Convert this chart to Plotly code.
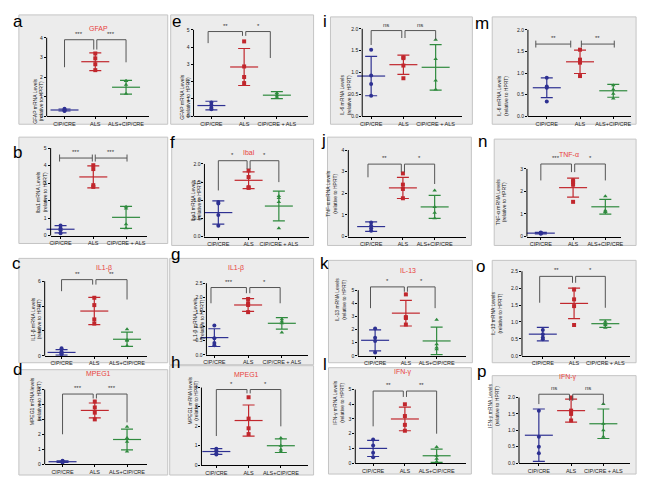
import plotly.graph_objects as go

W, H = 650, 483
COLORS = ['#2e3192', '#c1272d', '#2f8a3e']
SYMBOLS = ['circle', 'square', 'triangle-up']
FONT = 'Liberation Sans'

# --- group labels ---
lab_als_cip = ['CIP/CRE', 'ALS', 'ALS+CIP/CRE']
lab_cip_als = ['CIP/CRE', 'ALS', 'CIP/CRE + ALS']

# --- data: values per group (CIP/CRE, ALS, combined), means and SD ---
a_pts = [[0.38, 0.33, 0.3, 0.27], [3.2, 2.95, 2.65, 2.35], [1.8, 1.8, 1.6, 1.15]]
a_mean = [0.32, 2.78, 1.48]
a_sd = [0.05, 0.45, 0.35]

e_pts = [[0.8, 0.65, 0.5, 0.4], [4.33, 2.88, 2.27, 1.92], [1.35, 1.25, 1.15, 1.05]]
e_mean = [0.62, 2.85, 1.22]
e_sd = [0.25, 1.07, 0.2]

i_pts = [[1.52, 0.93, 0.74, 0.47], [1.35, 1.33, 1.16, 0.87], [1.75, 1.31, 0.82, 0.61]]
i_mean = [0.92, 1.18, 1.12]
i_sd = [0.45, 0.22, 0.52]

m_pts = [[0.89, 0.69, 0.66, 0.34], [1.54, 1.31, 1.24, 0.93], [0.72, 0.62, 0.52, 0.41]]
m_mean = [0.66, 1.26, 0.59]
m_sd = [0.23, 0.27, 0.15]

b_pts = [[0.57, 0.42, 0.3, 0.13], [4.02, 3.8, 2.88, 2.78], [1.65, 1.55, 0.64, 0.42]]
b_mean = [0.36, 3.35, 1.04]
b_sd = [0.21, 0.63, 0.63]

f_pts = [[0.95, 0.91, 0.59, 0.3], [1.82, 1.64, 1.36, 1.34], [1.12, 1.06, 0.95, 0.23]]
f_mean = [0.66, 1.55, 0.84]
f_sd = [0.32, 0.23, 0.41]

j_pts = [[0.65, 0.5, 0.38, 0.27], [2.92, 2.4, 2.2, 1.77], [2.13, 1.37, 1.1, 0.85]]
j_mean = [0.46, 2.25, 1.37]
j_sd = [0.22, 0.49, 0.53]

n_pts = [[0.18, 0.16, 0.14, 0.12], [2.49, 2.42, 2.3, 1.54], [1.79, 1.15, 1.1, 1.08]]
n_mean = [0.15, 2.17, 1.32]
n_sd = [0.03, 0.42, 0.33]

c_pts = [[0.61, 0.35, 0.2, 0.13], [4.67, 4.08, 2.93, 2.59], [2.13, 1.28, 1.2, 0.8]]
c_mean = [0.27, 3.6, 1.33]
c_sd = [0.22, 1.1, 0.57]

g_pts = [[1.02, 0.58, 0.41, 0.33], [1.95, 1.8, 1.74, 1.49], [1.24, 1.16, 1.1, 0.78]]
g_mean = [0.6, 1.74, 1.1]
g_sd = [0.31, 0.22, 0.2]

k_pts = [[2.08, 1.38, 1.13, 0.25], [4.68, 2.95, 2.88, 2.38], [2.75, 0.88, 0.63, 0.5]]
k_mean = [1.18, 3.25, 1.13]
k_sd = [0.8, 0.98, 1.05]

o_pts = [[0.76, 0.64, 0.54, 0.49], [1.96, 1.67, 1.47, 0.91], [1.01, 0.95, 0.91, 0.83]]
o_mean = [0.64, 1.55, 0.95]
o_sd = [0.2, 0.45, 0.11]

d_pts = [[0.22, 0.18, 0.15, 0.1], [4.2, 3.8, 3.45, 3.0], [2.5, 1.75, 1.5, 0.85]]
d_mean = [0.16, 3.6, 1.65]
d_sd = [0.05, 0.5, 0.7]

h_pts = [[0.85, 0.75, 0.6, 0.55], [3.5, 2.4, 1.9, 1.6], [1.4, 1.0, 0.8, 0.7]]
h_mean = [0.7, 2.3, 1.0]
h_sd = [0.15, 0.8, 0.35]

l_pts = [[1.6, 1.2, 0.7, 0.4], [4.0, 3.2, 2.6, 2.2], [1.1, 0.5, 0.3, 0.1]]
l_mean = [1.0, 3.0, 0.5]
l_sd = [0.55, 0.8, 0.45]

p_pts = [[1.6, 0.8, 0.5, 0.3], [2.0, 1.6, 1.5, 1.3], [1.8, 1.2, 1.0, 0.8]]
p_mean = [0.85, 1.6, 1.2]
p_sd = [0.8, 0.35, 0.45]

# brackets: (x left, left leg bottom, x right, right leg bottom, top, text)
# flat brackets: ('flat', x0, x1, y, text)
panels = [
    dict(k='a', pts=a_pts, mean=a_mean, sd=a_sd, title='GFAP', tpos=(85, 23),
         ylab='GFAP mRNA Levels<br>(relative to HPRT)', xlab=lab_als_cip,
         yr=(0, 4), dt=1, fmt='d', box=(16, 15, 166, 125), ax=44, ypx=(117, 38),
         cats=(62, 124), xend=147, let=(8, 10),
         br=[(1, 2.5, 1.95, 3.4, 3.9, '***'), (2.05, 3.4, 3, 2.75, 3.9, '***')]),
    dict(k='e', pts=e_pts, mean=e_mean, sd=e_sd, title=None,
         ylab='GFAP mRNA Levels<br>(relative to HPRT)', xlab=lab_cip_als,
         yr=(0, 5), dt=1, fmt='d', box=(169, 15, 313, 125), ax=192, ypx=(117, 30),
         cats=(210, 276), xend=307, let=(168, 10),
         br=[(0.9, 4.23, 1.95, 4.65, 4.9, '**'), (2.05, 4.65, 2.8, 3.37, 4.9, '*')]),
    dict(k='i', pts=i_pts, mean=i_mean, sd=i_sd, title=None,
         ylab='IL-6 mRNA Levels<br>(relative to HPRT)', xlab=lab_cip_als,
         yr=(0, 2), dt=0.5, fmt='.1f', box=(330, 17, 473, 125), ax=362, ypx=(117, 29),
         cats=(371, 436), xend=463, let=(324, 10),
         br=[(1, 1.63, 1.95, 1.79, 1.96, 'ns'), (2.05, 1.79, 3, 1.75, 1.96, 'ns')]),
    dict(k='m', pts=m_pts, mean=m_mean, sd=m_sd, title=None,
         ylab='IL-6 mRNA Levels<br>(relative to HPRT)', xlab=lab_als_cip,
         yr=(0, 2), dt=0.5, fmt='.1f', box=(493, 17, 638, 125), ax=529, ypx=(117, 30),
         cats=(548, 615), xend=633, let=(492, 12),
         br=[('flat', 0.67, 1.72, 1.67, '**'), ('flat', 2.04, 3.03, 1.67, '**')]),
    dict(k='b', pts=b_pts, mean=b_mean, sd=b_sd, title=None,
         ylab='Iba1 mRNA Levels<br>(relative to HPRT)', xlab=lab_cip_als,
         yr=(0, 5), dt=1, fmt='d', box=(16, 138, 166, 245), ax=48, ypx=(237, 149),
         cats=(58, 124), xend=145, let=(8, 142),
         br=[('flat', 0.97, 1.97, 4.43, '***'), ('flat', 2.06, 3.03, 4.43, '***')]),
    dict(k='f', pts=f_pts, mean=f_mean, sd=f_sd, title='Ibal', tpos=(248, 148),
         ylab='Iba1 mRNA Levels<br>(relative to HPRT)', xlab=lab_cip_als,
         yr=(0, 2), dt=0.5, fmt='.1f', box=(170, 140, 313, 247), ax=203, ypx=(238, 165),
         cats=(217, 278), xend=308, let=(166, 132),
         br=[(1, 1.27, 1.95, 1.86, 2.09, '*'), (2.05, 1.86, 3, 1.5, 2.09, '*')]),
    dict(k='j', pts=j_pts, mean=j_mean, sd=j_sd, title=None,
         ylab='TNF-α mRNA Levels<br>(relative to HPRT)', xlab=lab_als_cip,
         yr=(0, 4), dt=1, fmt='d', box=(327, 138, 472, 247), ax=348, ypx=(238, 151),
         cats=(371, 435), xend=467, let=(323, 130),
         br=[(0.9, 2.74, 1.95, 2.97, 3.35, '**'), (2.05, 2.97, 3, 2.43, 3.35, '*')]),
    dict(k='n', pts=n_pts, mean=n_mean, sd=n_sd, title='TNF-α', tpos=(582, 150),
         ylab='TNF-α mRNA Levels<br>(relative to HPRT)', xlab=lab_als_cip,
         yr=(0, 3), dt=1, fmt='d', box=(495, 140, 638, 247), ax=528, ypx=(238, 170),
         cats=(542, 607), xend=623, let=(490, 131),
         br=[(1, 2.49, 1.95, 2.86, 3.22, '***'), (2.05, 2.86, 3, 2.49, 3.22, '*')]),
    dict(k='c', pts=c_pts, mean=c_mean, sd=c_sd, title='IL1-β', tpos=(92, 270),
         ylab='IL1-β mRNA Levels<br>(relative to HPRT)', xlab=lab_als_cip,
         yr=(0, 6), dt=2, fmt='d', box=(16, 260, 166, 365), ax=42, ypx=(358, 283),
         cats=(59, 125), xend=145, let=(7, 265),
         br=[(1, 5.2, 1.95, 5.73, 6.13, '**'), (2.05, 5.73, 3, 4.53, 6.13, '**')]),
    dict(k='g', pts=g_pts, mean=g_mean, sd=g_sd, title='IL1-β', tpos=(235, 270),
         ylab='IL1-β mRNA Levels<br>(relative to HPRT)', xlab=lab_cip_als,
         yr=(0, 2.5), dt=0.5, fmt='.1f', box=(168, 260, 313, 367), ax=205, ypx=(357, 285),
         cats=(213, 281), xend=307, let=(167, 256),
         br=[(0.9, 1.8, 1.95, 2.15, 2.35, '***'), (2.05, 2.15, 2.95, 1.8, 2.35, '*')]),
    dict(k='k', pts=k_pts, mean=k_mean, sd=k_sd, title='IL-13', tpos=(408, 272),
         ylab='IL-13 mRNA Levels<br>(relative to HPRT)', xlab=lab_als_cip,
         yr=(0, 5), dt=1, fmt='d', box=(328, 262, 473, 365), ax=358, ypx=(358, 292),
         cats=(375, 437), xend=467, let=(324, 265),
         br=[(0.85, 3.63, 1.95, 4.88, 5.25, '*'), (2.05, 4.88, 2.95, 3.63, 5.25, '*')]),
    dict(k='o', pts=o_pts, mean=o_mean, sd=o_sd, title=None,
         ylab='IL-13 mRNA Levels<br>(relative to HPRT)', xlab=lab_cip_als,
         yr=(0, 2.5), dt=0.5, fmt='.1f', box=(493, 262, 638, 365), ax=523, ypx=(358, 273),
         cats=(544, 607), xend=632, let=(488, 268),
         br=[(0.9, 1.57, 1.95, 2.16, 2.35, '**'), (2.05, 2.16, 3, 1.42, 2.35, '*')]),
    dict(k='d', pts=d_pts, mean=d_mean, sd=d_sd, title='MPEG1', tpos=(82, 381),
         ylab='MPEG1 mRNA levels<br>(relative to HPRT)', xlab=lab_als_cip,
         yr=(0, 5), dt=1, fmt='d', box=(16, 372, 166, 478), ax=42, ypx=(467, 392),
         cats=(60, 125), xend=145, let=(8, 383),
         br=[(1, 2.0, 1.95, 4.4, 4.7, '***'), (2.05, 4.4, 3, 2.8, 4.7, '***')]),
    dict(k='h', pts=h_pts, mean=h_mean, sd=h_sd, title='MPEG1', tpos=(245, 382),
         ylab='MPEG1 mRNA levels<br>(relative to HPRT)', xlab=lab_als_cip,
         yr=(0, 4), dt=1, fmt='d', box=(168, 368, 313, 478), ax=200, ypx=(468, 390),
         cats=(215, 280), xend=307, let=(167, 376),
         br=[(1, 1.5, 1.95, 3.7, 3.9, '*'), (2.05, 3.7, 3, 2.0, 3.9, '*')]),
    dict(k='l', pts=l_pts, mean=l_mean, sd=l_sd, title='IFN-γ', tpos=(403, 380),
         ylab='IFN-γ mRNA Levels<br>(relative to HPRT)', xlab=lab_als_cip,
         yr=(0, 5), dt=1, fmt='d', box=(328, 370, 472, 477), ax=355, ypx=(466, 392),
         cats=(373, 437), xend=467, let=(324, 378),
         br=[(1, 2.5, 1.95, 4.5, 4.9, '**'), (2.05, 4.5, 3, 2.0, 4.9, '**')]),
    dict(k='p', pts=p_pts, mean=p_mean, sd=p_sd, title='IFN-γ', tpos=(580, 385),
         ylab='IFN-γ mRNA Levels<br>(relative to HPRT)', xlab=lab_cip_als,
         yr=(0, 2), dt=0.5, fmt='.1f', box=(493, 378, 638, 477), ax=520, ypx=(466, 400),
         cats=(540, 605), xend=632, let=(489, 385),
         br=[(1, 1.8, 1.95, 1.9, 2.1, 'ns'), (2.05, 1.9, 3, 1.8, 2.1, 'ns')]),
]


def fx(p):
    return p / W


def fy(p):
    return 1 - p / H


fig = go.Figure()
shapes, annots, axes = [], [], {}

for n, P in enumerate(panels, start=1):
    sfx = '' if n == 1 else str(n)
    xa, ya = 'x' + sfx, 'y' + sfx
    x0b, y0b, x1b, y1b = P['box']

    # panel background box
    shapes.append(dict(type='rect', xref='paper', yref='paper', x0=fx(x0b), x1=fx(x1b),
                       y0=fy(y1b), y1=fy(y0b), fillcolor='#ececec',
                       line=dict(color='#c4c4c4', width=1), layer='below'))

    # axis scales from pixel references
    ux = (P['cats'][1] - P['cats'][0]) / 2
    xr = [1 + (P['ax'] - P['cats'][0]) / ux, 1 + (P['xend'] - P['cats'][0]) / ux]
    ylo, yhi = P['yr']
    uy = (P['ypx'][0] - P['ypx'][1]) / (yhi - ylo)
    ytop_px = y0b + 3
    ytop = yhi + (P['ypx'][1] - ytop_px) / uy
    ticks = []
    v = ylo
    while v <= yhi + 1e-9:
        ticks.append(round(v, 3))
        v += P['dt']
    tt = [format(t, P['fmt']) if P['fmt'] != 'd' else str(int(t)) for t in ticks]

    axes['xaxis' + sfx] = dict(domain=[fx(P['ax']), fx(P['xend'])], range=xr, anchor=ya,
                               showline=True, linecolor='black', linewidth=1,
                               ticks='outside', ticklen=2, tickcolor='black',
                               tickvals=[1, 2, 3], ticktext=P['xlab'],
                               tickfont=dict(size=5.5, color='#1a1a1a', family=FONT),
                               showgrid=False, zeroline=False, fixedrange=True)
    axes['yaxis' + sfx] = dict(domain=[fy(P['ypx'][0]), fy(ytop_px)], range=[ylo, ytop],
                               anchor=xa, showline=False, ticks='outside', ticklen=2,
                               tickcolor='black', tickvals=ticks, ticktext=tt,
                               tickfont=dict(size=5, color='#1a1a1a', family=FONT),
                               showgrid=False, zeroline=False, fixedrange=True)
    # y axis line only from ymin to ymax
    shapes.append(dict(type='line', xref='paper', yref='paper', x0=fx(P['ax']), x1=fx(P['ax']),
                       y0=fy(P['ypx'][0]), y1=fy(P['ypx'][1]), line=dict(color='black', width=1)))

    # points and mean +/- SD
    for gi in range(3):
        fig.add_trace(go.Scatter(
            x=[gi + 1] * len(P['pts'][gi]), y=P['pts'][gi], mode='markers',
            marker=dict(symbol=SYMBOLS[gi], size=4, color=COLORS[gi]),
            xaxis=xa, yaxis=ya, cliponaxis=False, showlegend=False, hoverinfo='y'))
        fig.add_trace(go.Scatter(
            x=[gi + 1], y=[P['mean'][gi]], mode='markers',
            marker=dict(symbol='line-ew', size=20, line=dict(color=COLORS[gi], width=1.2)),
            error_y=dict(type='data', array=[P['sd'][gi]], color=COLORS[gi],
                         thickness=1.2, width=6),
            xaxis=xa, yaxis=ya, cliponaxis=False, showlegend=False, hoverinfo='y'))

    # significance brackets
    for b in P['br']:
        if b[0] == 'flat':
            _, bx0, bx1, by, txt = b
            tk = 0.04 * (yhi - ylo)
            path = (f'M {bx0},{by - tk} L {bx0},{by + tk} M {bx0},{by} L {bx1},{by} '
                    f'M {bx1},{by - tk} L {bx1},{by + tk}')
            mid, top = (bx0 + bx1) / 2, by
        else:
            bx0, bl, bx1, brr, top, txt = b
            path = f'M {bx0},{bl} L {bx0},{top} L {bx1},{top} L {bx1},{brr}'
            mid = (bx0 + bx1) / 2
        shapes.append(dict(type='path', xref=xa, yref=ya, path=path,
                           line=dict(color='#555555', width=1)))
        annots.append(dict(x=mid, y=top, xref=xa, yref=ya, text=txt, showarrow=False,
                           yanchor='bottom', yshift=1, font=dict(size=6, color='#333', family=FONT)))

    # y axis title
    annots.append(dict(x=fx(P['ax'] - 17), y=fy((P['ypx'][0] + P['ypx'][1]) / 2),
                       xref='paper', yref='paper', text=P['ylab'], textangle=-90,
                       showarrow=False, font=dict(size=5, color='#1a1a1a', family=FONT)))
    # red gene title
    if P['title']:
        annots.append(dict(x=fx(P['tpos'][0]), y=fy(P['tpos'][1]), xref='paper', yref='paper',
                           text=P['title'], showarrow=False,
                           font=dict(size=7, color='#e8413c', family=FONT)))
    # panel letter
    annots.append(dict(x=fx(P['let'][0]), y=fy(P['let'][1]), xref='paper', yref='paper',
                       text=P['k'], showarrow=False,
                       font=dict(size=17, color='black', family=FONT)))

fig.update_layout(**axes)
fig.update_layout(
    width=W, height=H,
    margin=dict(l=0, r=0, t=0, b=0),
    paper_bgcolor='white', plot_bgcolor='rgba(0,0,0,0)',
    shapes=shapes, annotations=annots,
    font=dict(family=FONT),
)

# page body has a default 8px margin; remove it so the figure sits at the window origin
fig.write_html('out.html', config={'displayModeBar': False},
               post_script="document.body.style.margin='0';")
